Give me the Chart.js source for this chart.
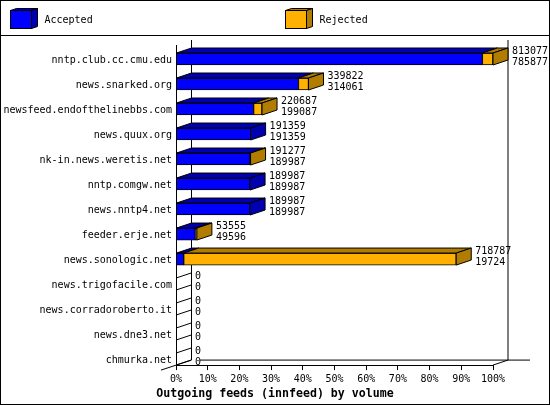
<!doctype html>
<html lang="en">
  <head>
    <meta charset="UTF-8">
    <title>Outgoing feeds (innfeed) by volume</title>
    <style>
      html, body { margin: 0; padding: 0; background: #fff; }
      canvas { display: block; }
    </style>
  </head>
  <body>
    <canvas id="myChart" width="550" height="405"></canvas>
    <script src="https://cdn.jsdelivr.net/npm/chart.js@4/dist/chart.umd.min.js"></script>
    <script>
    // Data-----
    const feeds = [
      'nntp.club.cc.cmu.edu', 'news.snarked.org', 'newsfeed.endofthelinebbs.com',
      'news.quux.org', 'nk-in.news.weretis.net', 'nntp.comgw.net', 'news.nntp4.net',
      'feeder.erje.net', 'news.sonologic.net', 'news.trigofacile.com',
      'news.corradoroberto.it', 'news.dne3.net', 'chmurka.net'
    ];
    const accepted = [785877, 314061, 199087, 191359, 189987, 189987, 189987, 49596, 19724, 0, 0, 0, 0];
    const rejected = [27200, 25761, 21600, 0, 1290, 0, 0, 3959, 699063, 0, 0, 0, 0];
    const totals = [813077, 339822, 220687, 191359, 191277, 189987, 189987, 53555, 718787, 0, 0, 0, 0];
    const percentLabels = ['0%', '10%', '20%', '30%', '40%', '50%', '60%', '70%', '80%', '90%', '100%'];
    const legendNames = ['Accepted', 'Rejected'];
    const chartTitle = 'Outgoing feeds (innfeed) by volume';
    // Data-----

    // Look-----
    const FAMILY = '"DejaVu Sans Mono", monospace';
    const FONT = '10px ' + FAMILY;
    const DX = 15, DY = 5; // depth of the fake 3d
    const colors = [
      { front: '#0000ff', dark: '#0000b0' },
      { front: '#ffb000', dark: '#b07d00' }
    ];
    const scaleMax = Math.max(...totals);

    // the bars sit at the bottom of their band, not in the middle of it
    class LowCategoryScale extends Chart.CategoryScale {
      static id = 'lowCategory';
      static defaults = Chart.CategoryScale.defaults;
      getPixelForValue(value) {
        return super.getPixelForValue(value) + 6.5;
      }
    }
    Chart.register(LowCategoryScale);

    function face(c, pts, fill) {
      c.beginPath();
      pts.forEach((p, i) => i ? c.lineTo(p[0], p[1]) : c.moveTo(p[0], p[1]));
      c.closePath();
      if (fill) { c.fillStyle = fill; c.fill(); }
      c.strokeStyle = '#000';
      c.lineWidth = 1;
      c.stroke();
    }

    function line(c, x0, y0, x1, y1) {
      c.beginPath();
      c.moveTo(x0, y0);
      c.lineTo(x1, y1);
      c.stroke();
    }

    function topFace(c, l, t, r, fill) {
      face(c, [[l, t], [l + DX, t - DY], [r + DX, t - DY], [r, t]], fill);
    }

    function sideFace(c, r, t, b, fill) {
      face(c, [[r, t], [r + DX, t - DY], [r + DX, b - DY], [r, b]], fill);
    }

    // back wall lines, legend and page frame
    const framePlugin = {
      id: 'frame',
      beforeDatasetsDraw(chart) {
        const c = chart.ctx, a = chart.chartArea;
        const front = a.left + 0.5, back = front + DX, low = a.bottom - DY;
        c.save();
        c.strokeStyle = '#000';
        c.lineWidth = 1;
        line(c, front, a.top + DY, front, a.bottom);
        line(c, back, a.top, back, low);
        line(c, a.right + DX, a.top, a.right + DX, low);
        line(c, a.left + 24, low, a.right + 37, low);
        line(c, a.left - DX, a.bottom + DY, back, low);
        line(c, a.right, a.bottom, a.right + DX, low);
        c.restore();
      },
      afterDraw(chart) {
        const c = chart.ctx;
        c.save();
        c.strokeStyle = '#000';
        c.lineWidth = 1;
        c.strokeRect(0.5, 0.5, 549, 404);
        line(c, 0, 35.5, 550, 35.5);
        legendNames.forEach((name, i) => {
          const x = i ? 285.5 : 10.5;
          c.fillStyle = colors[i].front;
          c.fillRect(x, 10.5, 21, 18);
          c.strokeRect(x, 10.5, 21, 18);
          face(c, [[x, 10.5], [x + 6, 8.5], [x + 27, 8.5], [x + 21, 10.5]], colors[i].dark);
          face(c, [[x + 21, 10.5], [x + 27, 8.5], [x + 27, 26.5], [x + 21, 28.5]], colors[i].dark);
          c.fillStyle = '#000';
          c.font = FONT;
          c.textBaseline = 'middle';
          c.textAlign = 'left';
          c.fillText(name, x + 34, 20);
        });
        c.restore();
      }
    };

    // top and side faces of the bars, plus the value labels
    const depthPlugin = {
      id: 'depth',
      afterDatasetsDraw(chart) {
        const c = chart.ctx;
        const m0 = chart.getDatasetMeta(0).data, m1 = chart.getDatasetMeta(1).data;
        c.save();
        feeds.forEach((_, i) => {
          const b0 = m0[i], b1 = m1[i];
          const t = b0.y - b0.height / 2, b = b0.y + b0.height / 2;
          if (accepted[i] > 0) {
            topFace(c, b0.base, t, b0.x, colors[0].dark);
            if (rejected[i] === 0) sideFace(c, b0.x, t, b, colors[0].dark);
          }
          if (rejected[i] > 0) {
            topFace(c, b1.base, t, b1.x, colors[1].dark);
            sideFace(c, b1.x, t, b, colors[1].dark);
          }
          if (totals[i] === 0) {
            // an empty bar only leaves its two edges on the floor
            line(c, b0.base, t, b0.base + DX, t - DY);
            line(c, b0.base, b, b0.base + DX, b - DY);
          }
          const end = Math.max(b0.x, b1.x) + DX + 4;
          c.fillStyle = '#000';
          c.font = FONT;
          c.textAlign = 'left';
          c.textBaseline = 'middle';
          c.fillText(String(totals[i]), end, b0.y - 8);
          c.fillText(String(accepted[i]), end, b0.y + 3);
        });
        c.restore();
      }
    };

    const config = {
      type: 'bar',
      data: {
        labels: feeds,
        datasets: [
          { label: legendNames[0], data: accepted, backgroundColor: colors[0].front },
          { label: legendNames[1], data: rejected, backgroundColor: colors[1].front }
        ]
      },
      options: {
        indexAxis: 'y',
        responsive: false,
        animation: false,
        devicePixelRatio: 1,
        layout: { padding: { top: 40, right: 0, bottom: 4, left: 0 } },
        elements: { bar: { borderColor: '#000', borderWidth: 1, borderSkipped: false } },
        datasets: { bar: { barThickness: 12 } },
        plugins: {
          legend: { display: false },
          tooltip: { enabled: false },
          title: {
            display: true,
            position: 'bottom',
            text: chartTitle,
            color: '#000',
            font: { family: FAMILY, size: 11.6, weight: 'bold' },
            padding: { top: 0, bottom: 0 }
          }
        },
        scales: {
          x: {
            stacked: true,
            min: 0,
            max: scaleMax,
            afterBuildTicks(scale) {
              scale.ticks = percentLabels.map((_, i) => ({ value: scaleMax * i / 10 }));
            },
            afterFit(scale) { scale.height = 22; },
            grid: { drawOnChartArea: false, color: '#000', tickLength: 5 },
            border: { color: '#000' },
            ticks: {
              color: '#000',
              maxRotation: 0,
              autoSkip: false,
              padding: 3,
              font: { family: FAMILY, size: 10 },
              callback: (v, i) => percentLabels[i]
            }
          },
          y: {
            type: 'lowCategory',
            stacked: true,
            afterFit(scale) { scale.width = 176; },
            grid: { display: false, drawTicks: false },
            border: { display: false },
            ticks: {
              color: '#000',
              autoSkip: false,
              padding: 4,
              labelOffset: 1,
              font: { family: FAMILY, size: 10 }
            }
          },
          // empty axis, only keeps the right margin free for the value labels
          margin: {
            type: 'linear',
            position: 'right',
            afterFit(scale) { scale.width = 57; },
            grid: { display: false },
            border: { display: false },
            ticks: { display: false }
          }
        }
      },
      plugins: [framePlugin, depthPlugin]
    };

    var myChart = new Chart(document.getElementById('myChart'), config);
    </script>
  </body>
</html>
